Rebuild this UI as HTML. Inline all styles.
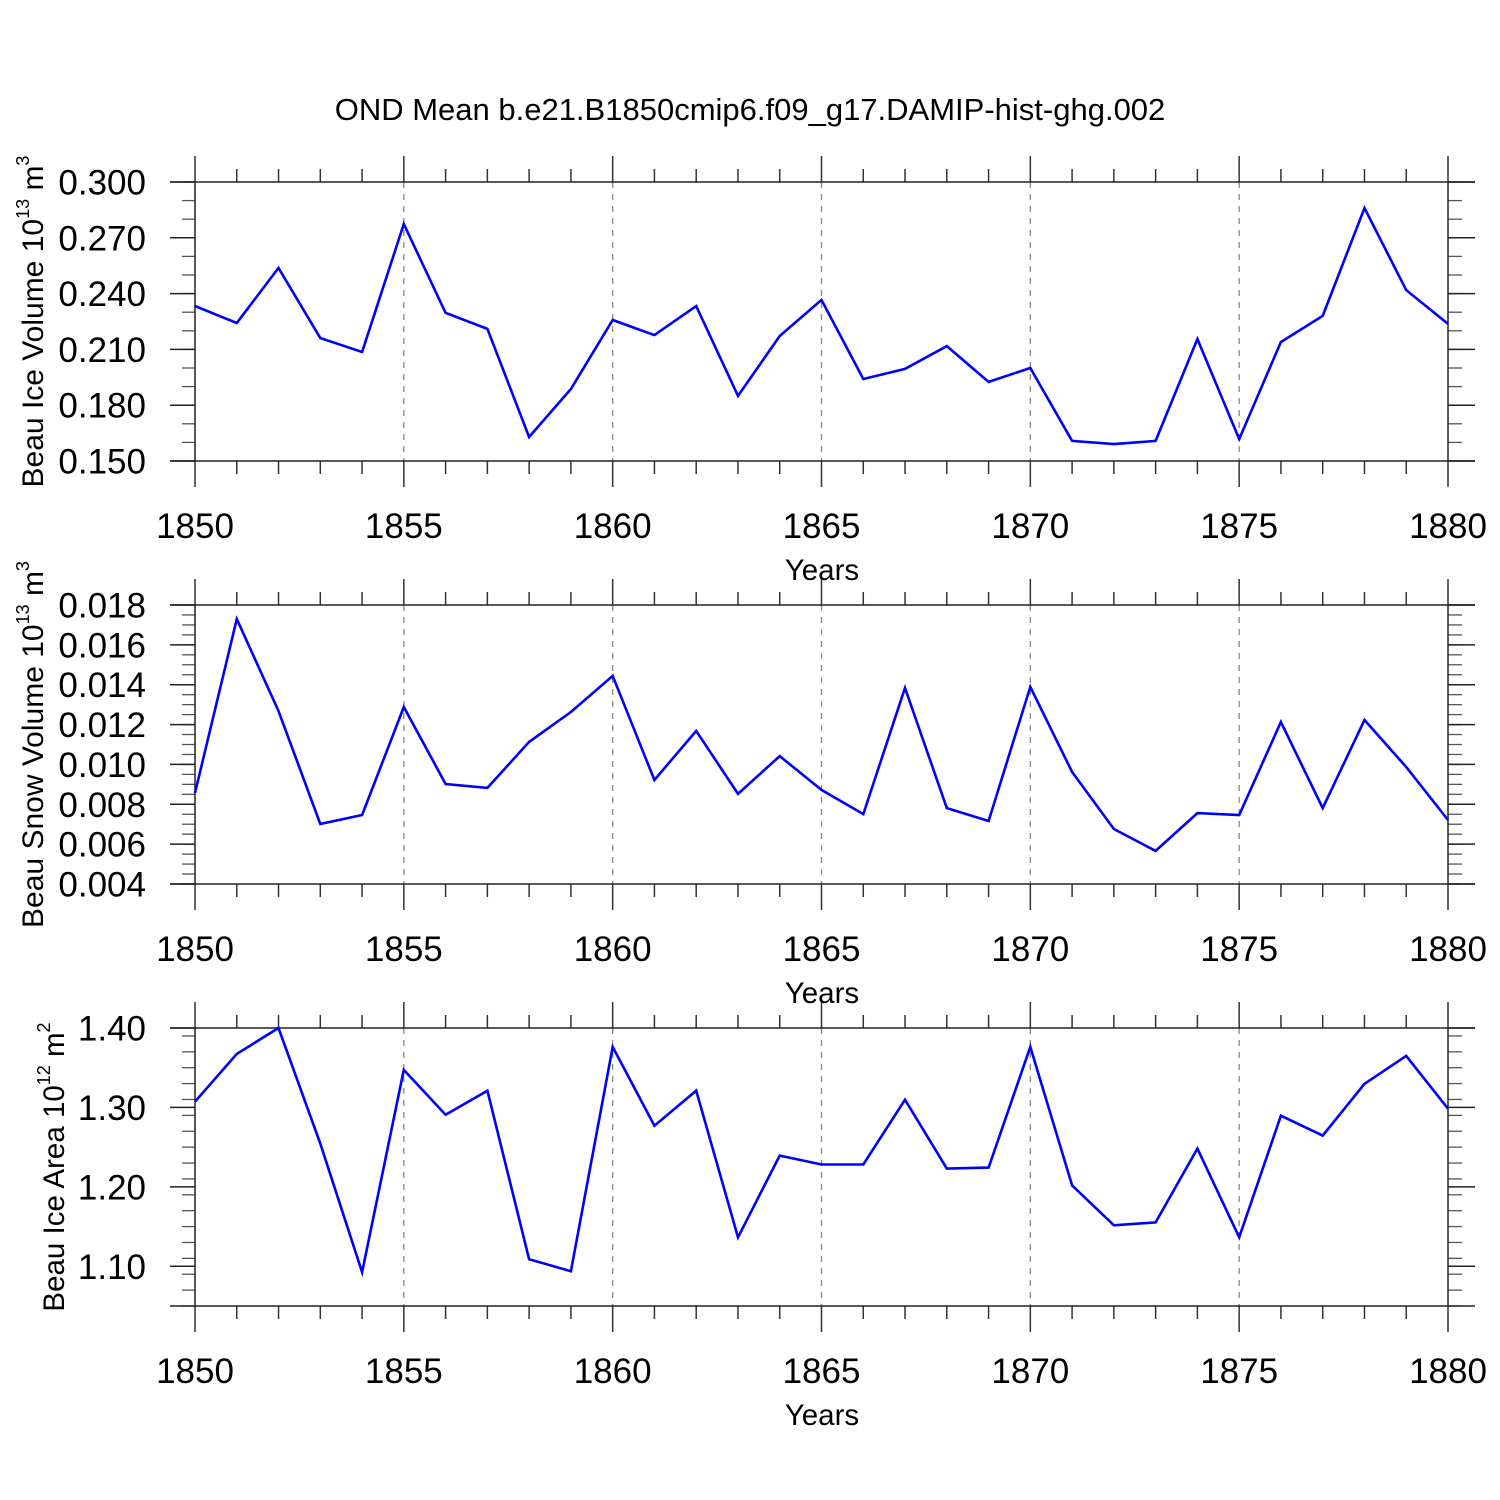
<!DOCTYPE html>
<html><head><meta charset="utf-8"><style>
html,body{margin:0;padding:0;background:#fff}
svg{display:block;font-family:"Liberation Sans",sans-serif}
</style></head><body>
<svg id="chart" width="1500" height="1500" viewBox="0 0 1500 1500">
<text x="750" y="120" font-size="31" text-anchor="middle">OND Mean b.e21.B1850cmip6.f09_g17.DAMIP-hist-ghg.002</text>
</svg>
<script>
const years = [1850,1851,1852,1853,1854,1855,1856,1857,1858,1859,1860,1861,1862,1863,1864,1865,1866,1867,1868,1869,1870,1871,1872,1873,1874,1875,1876,1877,1878,1879,1880];
const iceVolume = [0.2333,0.2242,0.2538,0.2161,0.2086,0.2774,0.2296,0.2210,0.1629,0.1887,0.2258,0.2177,0.2333,0.1850,0.2172,0.2366,0.1941,0.1995,0.2118,0.1925,0.2000,0.1608,0.1591,0.1608,0.2156,0.1618,0.2140,0.2280,0.2860,0.2419,0.2237];
const snowVolume = [0.00857,0.0173,0.01268,0.00701,0.00746,0.01288,0.00902,0.00882,0.01113,0.01263,0.01444,0.00922,0.01168,0.00852,0.01042,0.00872,0.00751,0.01384,0.00781,0.00716,0.01389,0.00962,0.00676,0.00566,0.00756,0.00746,0.01213,0.00781,0.01223,0.00987,0.00721];
const iceArea = [1.3072,1.3674,1.400,1.2545,1.0926,1.3473,1.2908,1.3210,1.1089,1.0938,1.3762,1.2770,1.3210,1.1365,1.2394,1.2281,1.2281,1.3097,1.2231,1.2243,1.3762,1.2018,1.1516,1.1553,1.2482,1.1365,1.2896,1.2645,1.3297,1.3649,1.2984];
const xTickLabels = ["1850","1855","1860","1865","1870","1875","1880"];
const iceVolTicks = ["0.150","0.180","0.210","0.240","0.270","0.300"];
const snowTicks = ["0.004","0.006","0.008","0.010","0.012","0.014","0.016","0.018"];
const areaTicks = ["1.10","1.20","1.30","1.40"];

const svg = document.getElementById('chart');
const NS = 'http://www.w3.org/2000/svg';
function el(tag, attrs, parent){const e=document.createElementNS(NS,tag);for(const k in attrs)e.setAttribute(k,attrs[k]);(parent||svg).appendChild(e);return e;}
const X0=195,X1=1448;
function xs(yr){return X0+(yr-1850)/30*(X1-X0);}

function panel(cfg){
  const g=el('g',{});
  
  
  const T=cfg.top,B=cfg.bottom;
  const ys=v=>B-(v-cfg.ymin)/(cfg.ymax-cfg.ymin)*(B-T);
  for(let yr=1855;yr<=1875;yr+=5){
    const l=el('line',{x1:xs(yr),x2:xs(yr),y1:T,y2:B,stroke:'#888','stroke-width':1.3,'stroke-dasharray':'6,6'},g);
    
    
  }
  for(let yr=1850;yr<=1880;yr++){
    const maj=yr%5===0;const L=maj?26:13;
    el('line',{x1:xs(yr),x2:xs(yr),y1:T-L,y2:T,stroke:'#333','stroke-width':1.5},g);
    el('line',{x1:xs(yr),x2:xs(yr),y1:B,y2:B+L,stroke:'#333','stroke-width':1.5},g);
  }
  const n=Math.round((cfg.ymax-cfg.ymin)/cfg.minor);
  for(let i=0;i<=n;i++){
    const v=cfg.ymin+i*cfg.minor;const y=ys(v);
    el('line',{x1:X0-13,x2:X0,y1:y,y2:y,stroke:'#555','stroke-width':1.3},g);
    el('line',{x1:X1,x2:X1+14,y1:y,y2:y,stroke:'#555','stroke-width':1.3},g);
  }
  cfg.ticks.forEach(t=>{
    const y=ys(parseFloat(t));
    el('line',{x1:X0-25,x2:X0,y1:y,y2:y,stroke:'#222','stroke-width':1.5},g);
    el('line',{x1:X1,x2:X1+27,y1:y,y2:y,stroke:'#222','stroke-width':1.5},g);
    const tx=el('text',{x:146,y:y+12.5,'font-size':35,'text-anchor':'end'},g);
    tx.textContent=t;
    
    
  });
  const f=el('rect',{x:X0,y:T,width:X1-X0,height:B-T,fill:'none',stroke:'#222','stroke-width':1.5},g);
  
  
  el('line',{x1:X0-25,x2:X0,y1:T,y2:T,stroke:'#222','stroke-width':1.5},g);
  el('line',{x1:X1,x2:X1+27,y1:T,y2:T,stroke:'#222','stroke-width':1.5},g);
  el('line',{x1:X0-25,x2:X0,y1:B,y2:B,stroke:'#222','stroke-width':1.5},g);
  el('line',{x1:X1,x2:X1+27,y1:B,y2:B,stroke:'#222','stroke-width':1.5},g);
  xTickLabels.forEach(t=>{
    const tx=el('text',{x:xs(+t),y:B+77,'font-size':35,'text-anchor':'middle'},g);
    tx.textContent=t;
    
    
  });
  const xt=el('text',{x:822,y:B+119,'font-size':29.5,'text-anchor':'middle'},g);
  xt.textContent='Years';
  
  
  const cy=(T+B)/2;
  const yt=el('text',{x:0,y:0,'font-size':cfg.tfs,'text-anchor':'middle',transform:`translate(${cfg.titleX},${cy}) rotate(-90)`},g);
  yt.innerHTML=cfg.title;
  
  
  const pts=cfg.data.map((v,i)=>xs(years[i]).toFixed(1)+','+ys(v).toFixed(1)).join(' ');
  const pl=el('polyline',{points:pts,fill:'none',stroke:'#0000ff','stroke-width':2.6,'stroke-linejoin':'miter'},g);
  
  
}
panel({name:'ice-volume-panel',top:182,bottom:461,ymin:0.150,ymax:0.300,minor:0.010,ticks:iceVolTicks,data:iceVolume,titleX:43,tfs:30,
  title:'Beau Ice Volume 10<tspan font-size="18" dy="-14">13</tspan><tspan dy="14"> m</tspan><tspan font-size="18" dy="-14">3</tspan>'});
panel({name:'snow-volume-panel',top:605,bottom:884,ymin:0.004,ymax:0.018,minor:0.0005,ticks:snowTicks,data:snowVolume,titleX:43,tfs:30,
  title:'Beau Snow Volume 10<tspan font-size="18" dy="-14">13</tspan><tspan dy="14"> m</tspan><tspan font-size="18" dy="-14">3</tspan>'});
panel({name:'ice-area-panel',top:1028,bottom:1306,ymin:1.05,ymax:1.40,minor:0.02,ticks:areaTicks,data:iceArea,titleX:64,tfs:29.5,
  title:'Beau Ice Area 10<tspan font-size="18" dy="-14">12</tspan><tspan dy="14"> m</tspan><tspan font-size="18" dy="-14">2</tspan>'});
</script>
</body></html>
